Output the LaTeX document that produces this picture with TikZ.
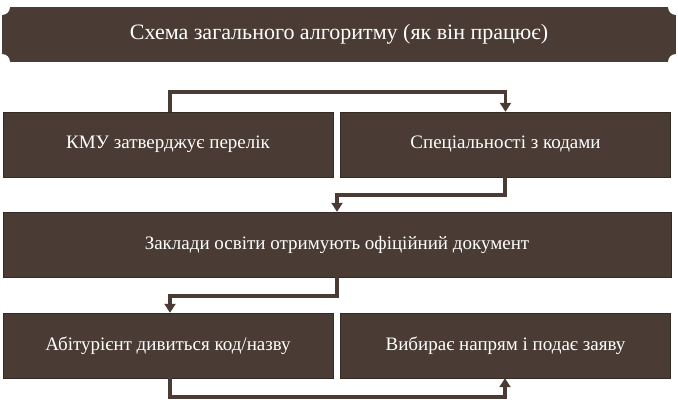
\documentclass[tikz,border=0pt]{standalone}
\usepackage{fontspec}
\setmainfont{Liberation Serif}
\usetikzlibrary{arrows.meta}
\usetikzlibrary{positioning}
\definecolor{bark}{HTML}{4A3C34}
\tikzset {
  % step box
  stepbox/.style = {
    fill = bark,
    draw = bark!70!black,
    text = white,
    minimum height = 65pt,
    inner sep = 0,
    font = \fontsize{19}{22}\selectfont
  },
  half/.style = {
    stepbox,
    minimum width = 330pt
  },
  full/.style = {
    stepbox,
    minimum width = 668pt
  },
  % connector
  link/.style = {
    draw = bark,
    line width = 3.5pt,
    -{Triangle[length=9pt,width=11pt]}
  }
}
\begin{document}
\begin{tikzpicture}[x=1pt,y=-1pt]
    \useasboundingbox (0,0) rectangle (678,407);
    % title ribbon with hollow corners
    \fill[bark] (2,7) rectangle (676,62);
    \foreach \cx/\cy in {2/7, 676/7, 2/62, 676/62}
      \fill[white] (\cx,\cy) circle[radius=8pt];
    \node[text=white, font=\fontsize{22}{24}\selectfont] (title) at (339,34.5)
    {Схема загального алгоритму (як він працює)};

    \node[half] (kmu) at (168,144.5) {КМУ затверджує перелік};
    \node[half] (codes) at (505.5,144.5) {Спеціальності з кодами};
    \node[full] (docs) at (337,244.5) {Заклади освіти отримують офіційний документ};
    \node[half] (pupil) at (168,345.5) {Абітурієнт дивиться код/назву};
    \node[half] (apply) at (505.5,345.5) {Вибирає напрям і подає заяву};

    \coordinate (kmu-up) at (170,92);
    \coordinate (codes-down) at (505,195);
    \coordinate (docs-down) at (337,296);
    \coordinate (pupil-down) at (170,397);

    \draw[link] (kmu.north -| kmu-up)
    -- (kmu-up)
    -| (codes.north);

    \draw[link] (codes.south -| codes-down)
    -- (codes-down)
    -| (docs.north);

    \draw[link] (docs.south -| docs-down)
    -- (docs-down)
    -| (pupil-down |- pupil.north);

    \draw[link] (pupil.south -| pupil-down)
    -- (pupil-down)
    -| (apply.south -| codes-down);
  \end{tikzpicture}
\end{document}
